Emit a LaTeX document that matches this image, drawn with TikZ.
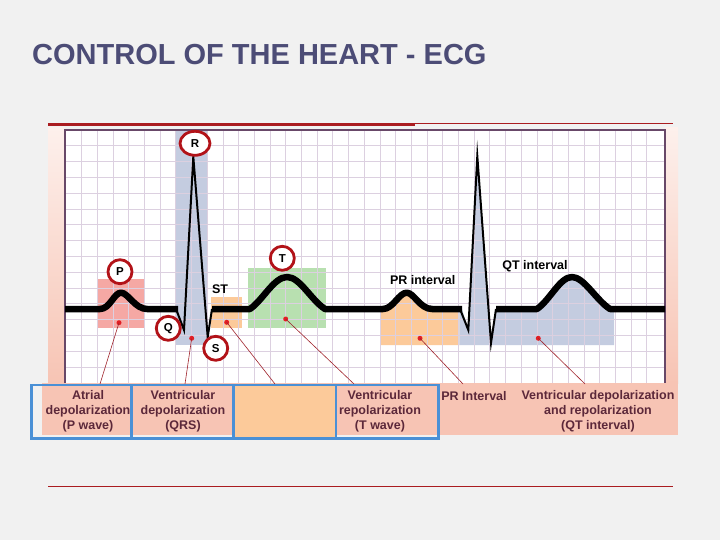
\documentclass[tikz,border=0pt]{standalone}
\usepackage{fontspec}
\usetikzlibrary{shapes.geometric}
\setmainfont{Liberation Sans}
\definecolor{pagebg}{RGB}{241,241,241}
\definecolor{titleblue}{RGB}{76,76,118}
\definecolor{linered}{RGB}{170,28,32}
\definecolor{bandpink}{RGB}{247,196,180}
\definecolor{stripltop}{RGB}{253,240,236}
\definecolor{gridc}{RGB}{220,208,224}
\definecolor{framec}{RGB}{104,72,104}
\definecolor{pfill}{RGB}{245,168,164}
\definecolor{qrsfill}{RGB}{196,204,224}
\definecolor{orfill}{RGB}{252,202,154}
\definecolor{tfill}{RGB}{184,224,176}
\definecolor{ringred}{RGB}{178,18,24}
\definecolor{dotred}{RGB}{226,30,36}
\definecolor{leadred}{RGB}{160,36,44}
\definecolor{boxblue}{RGB}{74,144,214}
\definecolor{labtxt}{RGB}{92,40,58}
\begin{document}
\begin{tikzpicture}[x=1pt,y=-1pt,
    lbl/.style={font=\fontsize{12.5}{15}\selectfont\bfseries,text=labtxt,align=center,inner sep=0pt},
    ring/.style={circle,draw=ringred,line width=2.8pt,fill=white,minimum size=24pt,inner sep=0pt,
      font=\fontsize{11.5}{12}\selectfont\bfseries},
    wide ring/.style={ring,ellipse,minimum width=30pt,minimum height=24pt},
    dot/.style={circle,fill=dotred,inner sep=0pt,minimum size=5pt},
    lead/.style={draw=leadred,line width=0.6pt},
    trace/.style={line width=6.5pt,line join=round},
    spike/.style={line width=2pt,line join=miter,miter limit=20},
    bluebox/.style={draw=boxblue,line width=2.6pt}]

    % background and frame
    \fill[pagebg] (0,0) rectangle (720,540);
    \useasboundingbox (0,0) rectangle (720,540);
    \fill[bandpink] (42,383) rectangle (678,435);
    \shade[top color=stripltop,bottom color=bandpink] (48,128) rectangle (65,383);
    \shade[top color=stripltop,bottom color=bandpink] (665,128) rectangle (678,383);
    \fill[white] (65,130) rectangle (665,383);

    % coloured regions
    \fill[pfill] (97.3,279.3) rectangle (144,328.3);
    \fill[qrsfill] (175,130) rectangle (208.3,345);
    \fill[orfill] (211,296.7) rectangle (241.7,328.3);
    \fill[tfill] (248.3,268.3) rectangle (326,328.3);
    \fill[orfill] (381,309) -- (383,309) .. controls (393,309) and (399,292.7) .. (406.7,292.7)
      .. controls (414,292.7) and (420,309) .. (432,309) -- (459.3,309) -- (459.3,345) -- (381,345) -- cycle;
    \fill[qrsfill] (459.3,309) -- (462,309) -- (468.3,330) -- (477.3,156) -- (491,343) -- (496,309)
      -- (537,309) .. controls (550,300) and (560,277) .. (572,277)
      .. controls (584,277) and (596,300) .. (610,309) -- (614,309) -- (614,345) -- (459.3,345) -- cycle;

    % grid
    \foreach \gx in {81.7,97.4,...,660}
      \draw[gridc,line width=0.9pt] (\gx,130) -- (\gx,383);
    \foreach \gy in {145.8,161.6,...,380}
      \draw[gridc,line width=0.9pt] (65,\gy) -- (665,\gy);
    \draw[framec,line width=1.4pt] (65,383) -- (65,130) -- (665,130) -- (665,383);

    % red rules
    \draw[linered,line width=3pt] (48,124.5) -- (415,124.5);
    \draw[linered,line width=1pt] (415,123.5) -- (673,123.5);
    \draw[linered,line width=1pt] (48,486) -- (673,486);

    % draw figure
    \draw[trace] (65,309) -- (100,309) .. controls (110,309) and (114,292.7) .. (121,292.7)
      .. controls (128,292.7) and (135,309) .. (147,309) -- (178,309);
    \draw[spike] (176,309) -- (184,330) -- (193.3,156.7) -- (207.7,337) -- (212,309);
    \draw[trace] (212,309) -- (250,309) .. controls (263,300) and (274,277) .. (287,277)
      .. controls (300,277) and (311,300) .. (325,309) -- (383,309)
      .. controls (393,309) and (399,292.7) .. (406.7,292.7)
      .. controls (414,292.7) and (420,309) .. (432,309) -- (462,309);
    \draw[spike] (460,309) -- (468.3,330) -- (477.3,156) -- (491,343) -- (496,309);
    \draw[trace] (496,309) -- (537,309) .. controls (550,300) and (560,277) .. (572,277)
      .. controls (584,277) and (596,300) .. (610,309) -- (665,309);

    % dots and leader ends
    \node[dot] (dP) at (119,322.7) {};
    \node[dot] (dQRS) at (191.7,338.3) {};
    \node[dot] (dST) at (226.7,322.3) {};
    \node[dot] (dT) at (285.7,319) {};
    \node[dot] (dPR) at (420,338.3) {};
    \node[dot] (dQT) at (538.3,338.3) {};
    \coordinate (eP) at (100,384);
    \coordinate (eQRS) at (185,384);
    \coordinate (eST) at (275,384);
    \coordinate (eT) at (354,384);
    \coordinate (ePR) at (463,384);
    \coordinate (eQT) at (585,384);
    \draw[lead] (dP.center) -- (eP);
    \draw[lead] (dQRS.center) -- (eQRS);
    \draw[lead] (dST.center) -- (eST);
    \draw[lead] (dT.center) -- (eT);
    \draw[lead] (dPR.center) -- (ePR);
    \draw[lead] (dQT.center) -- (eQT);

    % circled letters
    \node[wide ring] (R) at (195,143.3) {R};
    \node[ring] (P) at (120,271.7) {P};
    \node[ring] (T) at (282.3,258.3) {T};
    \node[ring] (Q) at (168.3,328.3) {Q};
    \node[ring] (S) at (215.7,348.3) {S};

    % add labels
    \node[font=\fontsize{29}{31}\selectfont\bfseries,text=titleblue,anchor=base west,inner sep=0pt]
      (title) at (32,65) {CONTROL OF THE HEART - ECG};
    \node[lbl,text=black] (ST) at (220,289) {ST};
    \node[lbl,text=black] (PRi) at (422.7,280) {PR interval};
    \node[lbl,text=black] (QTi) at (535,266.7) {QT interval};

    % bottom boxes
    \draw[bluebox] (31.7,385) rectangle (131.7,438.3);
    \draw[bluebox] (131.7,385) rectangle (233.3,438.3);
    \draw[bluebox,fill=orfill] (233.3,385) rectangle (336,438.3);
    \draw[bluebox] (336,385) rectangle (438.3,438.3);
    \node[lbl] (atr) at (88,411) {Atrial\\depolarization\\(P wave)};
    \node[lbl] (vdep) at (183,411) {Ventricular\\depolarization\\(QRS)};
    \node[lbl] (vrep) at (380,411) {Ventricular\\repolarization\\(T wave)};
    \node[lbl] (pri) at (474,396) {PR Interval};
    \node[lbl] (qti) at (598,411) {Ventricular depolarization\\and repolarization\\(QT interval)};
\end{tikzpicture}
\end{document}
